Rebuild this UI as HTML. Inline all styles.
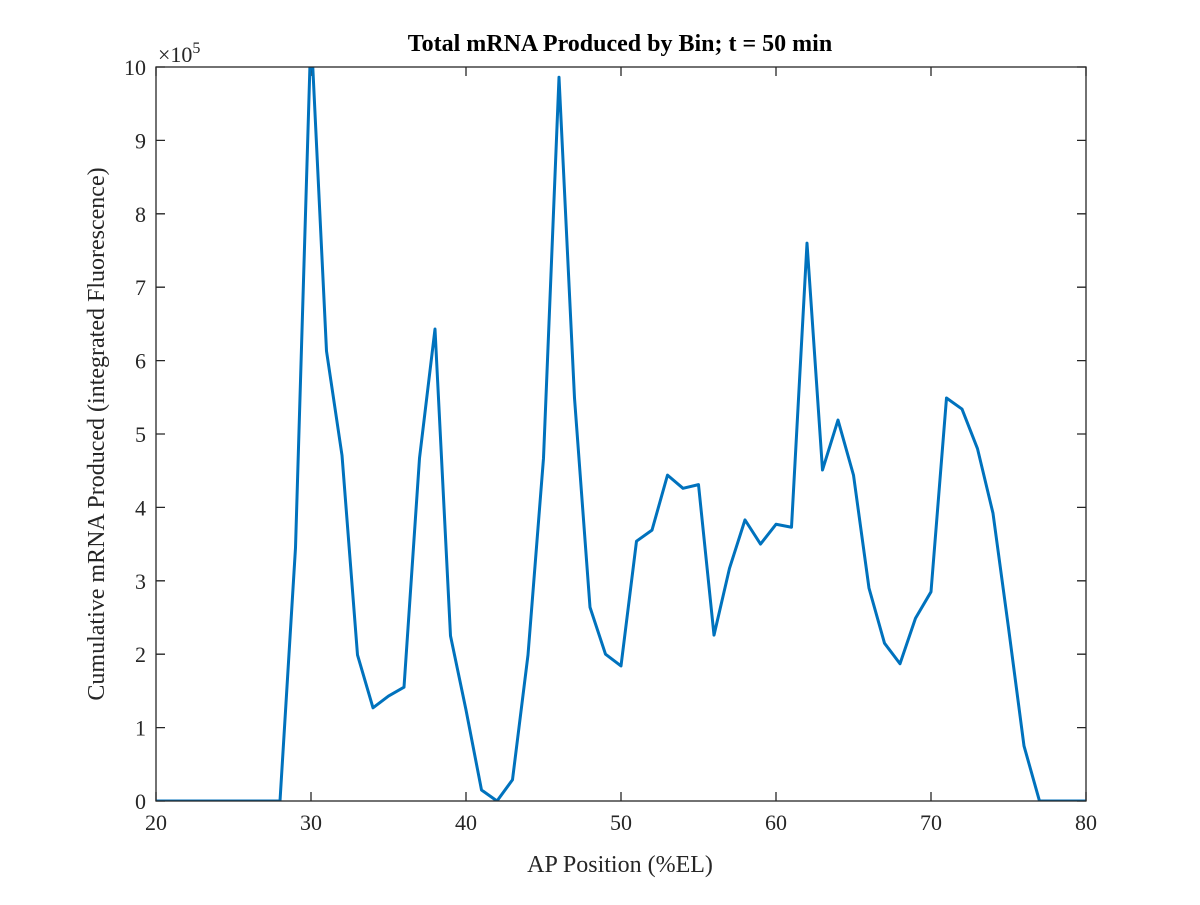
<!DOCTYPE html>
<html><head><meta charset="utf-8"><style>
body{margin:0;background:#fff}
svg{font-family:"Liberation Serif",serif}
</style></head><body>
<svg id="chart" width="1200" height="900" viewBox="0 0 1200 900">
<defs><clipPath id="clip"><rect x="156" y="67" width="930" height="734"/></clipPath></defs>
<rect x="0" y="0" width="1200" height="900" fill="#fff"/>
<g id="ticks"></g>
<path id="line" fill="none" stroke="#0072BD" stroke-width="3" stroke-linejoin="round" clip-path="url(#clip)"/>
<rect x="156" y="67" width="930" height="734" fill="none" stroke="#262626" stroke-width="1.3"/>
<text x="620" y="51" text-anchor="middle" font-size="24" font-weight="bold" fill="#000">Total mRNA Produced by Bin; t = 50 min</text>
<text x="620" y="872" text-anchor="middle" font-size="24" fill="#262626">AP Position (%EL)</text>
<text transform="translate(104,434) rotate(-90)" text-anchor="middle" font-size="24" fill="#262626">Cumulative mRNA Produced (integrated Fluorescence)</text>
<text x="158" y="62" font-size="22" fill="#262626">×10<tspan dy="-9" font-size="16">5</tspan></text>
</svg>
<script>
const xs=[20,21,22,23,24,25,26,27,28,29,30,31,32,33,34,35,36,37,38,39,40,41,42,43,44,45,46,47,48,49,50,51,52,53,54,55,56,57,58,59,60,61,62,63,64,65,66,67,68,69,70,71,72,73,74,75,76,77,78,79,80];
const vals=[0,0,0,0,0,0,0,0,0,3.45,10.5,6.13,4.71,1.99,1.27,1.43,1.55,4.67,6.43,2.25,1.24,0.15,0,0.29,1.99,4.67,9.86,5.49,2.64,2.0,1.84,3.54,3.69,4.44,4.26,4.31,2.26,3.17,3.83,3.5,3.77,3.73,7.6,4.51,5.19,4.44,2.9,2.15,1.87,2.49,2.85,5.49,5.34,4.8,3.92,2.36,0.75,0,0,0,0];
const xTicks=[20,30,40,50,60,70,80];
const yTicks=[0,1,2,3,4,5,6,7,8,9,10];
const X=v=>156+(v-20)*930/60, Y=v=>801-v*73.4;
const ns="http://www.w3.org/2000/svg", g=document.getElementById('ticks');
function mk(t,a){const e=document.createElementNS(ns,t);for(const k in a)e.setAttribute(k,a[k]);return e;}
xTicks.forEach(t=>{const x=X(t);
 let l=mk('path',{d:`M${x},801v-9M${x},67v9`,stroke:'#262626','stroke-width':1.3});
 
 g.appendChild(l);
 let s=mk('text',{x:x,y:830,'text-anchor':'middle','font-size':22,fill:'#262626'});s.textContent=t;
 
 g.appendChild(s);});
yTicks.forEach(t=>{const y=Y(t);
 let l=mk('path',{d:`M156,${y}h9M1086,${y}h-9`,stroke:'#262626','stroke-width':1.3});
 
 g.appendChild(l);
 let s=mk('text',{x:146,y:y+8,'text-anchor':'end','font-size':22,fill:'#262626'});s.textContent=t;
 
 g.appendChild(s);});
document.getElementById('line').setAttribute('d',xs.map((x,i)=>(i?'L':'M')+X(x)+','+Y(vals[i])).join(''));
</script>
</body></html>
